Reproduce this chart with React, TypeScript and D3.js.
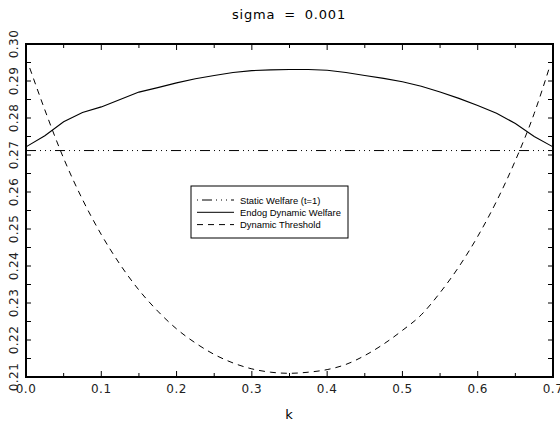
import React from "react";
import * as d3 from "d3";

const title = "sigma = 0.001";
const xLabel = "k";

const xTicks = [0, 0.1, 0.2, 0.3, 0.4, 0.5, 0.6, 0.7];
const yTicks = [0.21, 0.22, 0.23, 0.24, 0.25, 0.26, 0.27, 0.28, 0.29, 0.3];

const staticK = [0, 0.7];
const staticWelfare = [0.2712, 0.2712];

const welfareK = [
  0, 0.025, 0.05, 0.075, 0.1, 0.125, 0.15, 0.175, 0.2, 0.225, 0.25, 0.275, 0.3, 0.325,
  0.35, 0.375, 0.4, 0.425, 0.45, 0.475, 0.5, 0.525, 0.55, 0.575, 0.6, 0.625, 0.65, 0.675, 0.7,
];
const endogWelfare = [
  0.2722, 0.2752, 0.279, 0.2815, 0.283, 0.285, 0.287, 0.2882, 0.2895, 0.2906, 0.2915,
  0.2923, 0.2928, 0.293, 0.2931, 0.2931, 0.2929, 0.2923, 0.2915, 0.2907, 0.2898, 0.2886,
  0.287, 0.2853, 0.2834, 0.2813, 0.2785, 0.275, 0.2722,
];

const thresholdK = [
  0.005, 0.025, 0.05, 0.075, 0.1, 0.125, 0.15, 0.175, 0.2, 0.225, 0.25, 0.275, 0.3, 0.325,
  0.35, 0.375, 0.4, 0.425, 0.45, 0.475, 0.5, 0.525, 0.55, 0.575, 0.6, 0.625, 0.65, 0.675, 0.695,
];
const threshold = [
  0.2935, 0.2822, 0.2691, 0.258, 0.2485, 0.2404, 0.2335, 0.2278, 0.223, 0.2192, 0.2161,
  0.2138, 0.2122, 0.2113, 0.211, 0.2113, 0.212, 0.2134, 0.2158, 0.2189, 0.2226, 0.2268,
  0.2328, 0.2398, 0.248, 0.2575, 0.2685, 0.2812, 0.2935,
];

const legendItems = [
  { label: "Static Welfare (t=1)", dash: "1,4,10,4,1,4,1,4" },
  { label: "Endog Dynamic Welfare", dash: "none" },
  { label: "Dynamic Threshold", dash: "6,5" },
];

export default function App() {
  const width = 560;
  const height = 425;
  const left = 26;
  const right = 553;
  const top = 44;
  const bottom = 377;

  const x = d3.scaleLinear().domain([0, 0.7]).range([left, right]);
  const y = d3.scaleLinear().domain([0.21, 0.3]).range([bottom, top]);

  const straight = d3
    .line<[number, number]>()
    .x((d) => x(d[0]))
    .y((d) => y(d[1]));
  const smooth = d3
    .line<[number, number]>()
    .x((d) => x(d[0]))
    .y((d) => y(d[1]))
    .curve(d3.curveMonotoneX);

  const zip = (a: number[], b: number[]) => a.map((v, i) => [v, b[i]] as [number, number]);

  const xMinor = d3.range(0, 0.7001, 0.05);
  const yMinor = d3.range(0.21, 0.30001, 0.005);
  const font = "'DejaVu Sans', Verdana, sans-serif";

  return (
    <svg
      width={width}
      height={height}
      style={{ position: "absolute", left: 0, top: 0, background: "#fff" }}
      fontFamily={font}
    >
      <rect width={width} height={height} fill="#fff" />
      <text x={289} y={19} textAnchor="middle" fontSize={13} letterSpacing={0.8} wordSpacing={4} fill="#000">
        {title}
      </text>

      {/* ticks */}
      <g stroke="#000" strokeWidth={1}>
        {xMinor.map((t, i) => {
          const len = i % 2 === 0 ? 6 : 4;
          return (
            <g key={"x" + i}>
              <line x1={x(t)} x2={x(t)} y1={bottom} y2={bottom - len} />
              <line x1={x(t)} x2={x(t)} y1={top} y2={top + len} />
            </g>
          );
        })}
        {yMinor.map((t, i) => (
          <g key={"y" + i}>
            <line x1={left} x2={left + 5} y1={y(t)} y2={y(t)} />
            <line x1={right} x2={right - 5} y1={y(t)} y2={y(t)} />
          </g>
        ))}
      </g>

      {/* series */}
      <path
        d={straight(zip(staticK, staticWelfare)) || ""}
        fill="none"
        stroke="#000"
        strokeWidth={1}
        strokeDasharray="10,4,1,4,1,4,1,4"
      />
      <path d={straight(zip(welfareK, endogWelfare)) || ""} fill="none" stroke="#000" strokeWidth={1.1} />
      <path
        d={smooth(zip(thresholdK, threshold)) || ""}
        fill="none"
        stroke="#000"
        strokeWidth={1}
        strokeDasharray="6,5"
      />

      {/* frame */}
      <rect
        x={left}
        y={top}
        width={right - left}
        height={bottom - top}
        fill="none"
        stroke="#000"
        strokeWidth={2}
      />

      {/* tick labels */}
      {xTicks.map((t) => (
        <text key={"xl" + t} x={x(t)} y={393} textAnchor="middle" fontSize={12} letterSpacing={0.5} fill="#222">
          {t.toFixed(1)}
        </text>
      ))}
      {yTicks.map((t) => (
        <text
          key={"yl" + t}
          transform={`translate(18,${y(t)}) rotate(-90)`}
          textAnchor="middle"
          fontSize={12}
          letterSpacing={0.5}
          fill="#222"
        >
          {t.toFixed(2)}
        </text>
      ))}
      <text x={289} y={419} textAnchor="middle" fontSize={13} fill="#000">
        {xLabel}
      </text>

      {/* legend */}
      <rect x={191} y={186} width={157} height={52} fill="#fff" stroke="#000" strokeWidth={1} />
      {legendItems.map((it, i) => {
        const ly = 200 + i * 12.3;
        return (
          <g key={it.label}>
            <line
              x1={197}
              x2={234}
              y1={ly}
              y2={ly}
              stroke="#000"
              strokeWidth={1}
              strokeDasharray={it.dash}
            />
            <text x={240} y={ly + 3.5} fontSize={9.4} fontFamily="'Liberation Sans', Arial, sans-serif" fill="#000">
              {it.label}
            </text>
          </g>
        );
      })}
    </svg>
  );
}
